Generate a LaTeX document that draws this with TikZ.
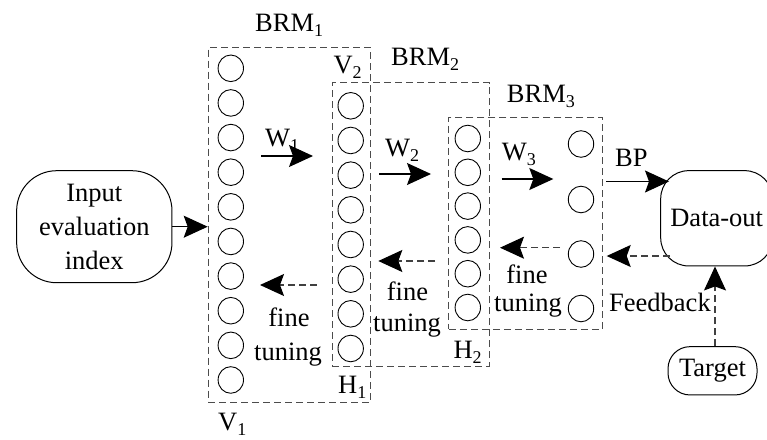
\documentclass[tikz,border=0pt]{standalone}
\usepackage{fontspec}
\setmainfont{Liberation Serif}
\usetikzlibrary{arrows.meta,shapes.geometric}
\newcommand\subs[1]{\raisebox{-5pt}{\fontsize{18}{18}\selectfont #1}}
\begin{document}
\begin{tikzpicture}[x=1pt,y=-1pt,
  every node/.style={font=\fontsize{26.5}{34}\selectfont},
  lbl/.style={inner sep=0,anchor=base west},
  clbl/.style={inner sep=0,anchor=base},
  dbox/.style={draw=black!70, line width=1.1pt, dash pattern=on 7pt off 4pt, inner sep=0, anchor=north west},
  unit/.style={ellipse, draw, line width=0.9pt, minimum width=25.4pt, minimum height=26.6pt, inner sep=0},
  term/.style={draw, line width=1pt, align=center, inner sep=0},
  fwd/.style={-{Stealth[length=24pt,width=22pt,inset=4pt,color=black]}, line width=1.1pt},
  bwd/.style={fwd, dash pattern=on 7pt off 4pt, draw=black!75},
]
\useasboundingbox (0,0) rectangle (767,439);

% terminals
\node[term, rounded corners=40pt, minimum width=155.3pt, minimum height=112pt] (input) at (94.3,226.7) {Input\\evaluation\\index};
\node[term, rounded corners=28pt, minimum width=112pt, minimum height=95.3pt] (dataout) at (716.7,218.3) {Data-out};
\node[term, rounded corners=22pt, minimum width=89pt, minimum height=48.3pt] (target) at (712.5,370.8) {Target};

% BRM boxes
\node[dbox, minimum width=162.3pt, minimum height=355pt] (brm1) at (207.7,46.7) {};
\node[dbox, minimum width=157pt, minimum height=283.5pt] (brm2) at (331.7,82) {};
\node[dbox, minimum width=153.7pt, minimum height=212pt] (brm3) at (448.3,116.7) {};

% units
\foreach \k in {0,...,9} \node[unit] (a\k) at (230.8, 68.3+34.63*\k) {};
\foreach \k in {0,...,7} \node[unit] (b\k) at (350.7, 105.8+34.67*\k) {};
\foreach \k in {0,...,5} \node[unit] (c\k) at (467.8, 138.5+33.8*\k) {};
\foreach \k/\yy in {0/144,1/199.5,2/254,3/308.5} \node[unit] (d\k) at (581,\yy) {};

% coordinates
\coordinate (w1s) at (261,156);   \coordinate (w1e) at (313,156);
\coordinate (w2s) at (379,174);   \coordinate (w2e) at (431,174);
\coordinate (w3s) at (501.7,179); \coordinate (w3e) at (553.3,179);
\coordinate (bps) at (606,181.5); \coordinate (bpe) at (669,181.5);
\coordinate (fbs) at (670,256);   \coordinate (fbe) at (606.7,256);
\coordinate (f1s) at (316.7,285); \coordinate (f1e) at (260,285);
\coordinate (f2s) at (435,261);   \coordinate (f2e) at (378.3,261);
\coordinate (f3s) at (560,247.7); \coordinate (f3e) at (500,247.7);

% connectors
\draw[fwd] (input.east) -- (brm1.west |- input.east);
\draw[fwd] (w1s) -- (w1e);
\draw[fwd] (w2s) -- (w2e);
\draw[fwd] (w3s) -- (w3e);
\draw[fwd] (bps) -- (bpe);
\draw[bwd] (fbs) -- (fbe);
\draw[bwd] (f1s) -- (f1e);
\draw[bwd] (f2s) -- (f2e);
\draw[bwd] (f3s) -- (f3e);
\draw[bwd] ([xshift=2.5pt]target.north) -- ([xshift=-1.7pt]dataout.south);

% labels
\node[lbl] (tbrm1) at (255,31.7) {BRM\subs{1}};
\node[lbl] (tbrm2) at (391,65) {BRM\subs{2}};
\node[lbl] (tbrm3) at (506.7,102.3) {BRM\subs{3}};
\node[lbl] (tv2) at (333.3,73) {V\subs{2}};
\node[lbl] (tv1) at (218,430) {V\subs{1}};
\node[lbl] (th1) at (338,393.3) {H\subs{1}};
\node[lbl] (th2) at (453.3,358) {H\subs{2}};
\node[lbl] (tw1) at (265,146.7) {W\subs{1}};
\node[lbl] (tw2) at (385,156) {W\subs{2}};
\node[lbl] (tw3) at (501.7,160) {W\subs{3}};
\node[lbl] (tbp) at (615,166.7) {BP};
\node[lbl] (tfb) at (609,311) {Feedback};
\node[clbl] (tf1a) at (289,326.7) {fine};
\node[clbl] (tf1b) at (288,360) {tuning};
\node[clbl] (tf2a) at (407.5,300) {fine};
\node[clbl] (tf2b) at (407,331.7) {tuning};
\node[clbl] (tf3a) at (527,283) {fine};
\node[clbl] (tf3b) at (528,311.7) {tuning};
\end{tikzpicture}
\end{document}
